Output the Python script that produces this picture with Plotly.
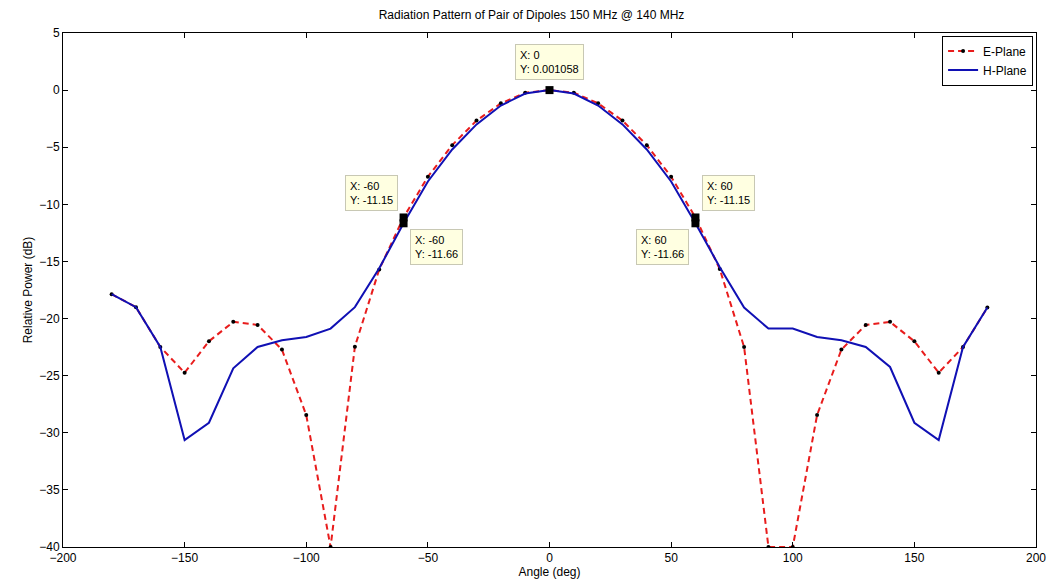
import plotly.graph_objects as go

# angles (deg)
angle = list(range(-180, 181, 10))

# E-Plane (dB)
e_plane = [-17.87, -19.0, -22.49, -24.74, -21.99, -20.29, -20.56, -22.72, -28.45, -40.0,
           -22.46, -15.7, -11.15, -7.58, -4.82, -2.67, -1.16, -0.23, 0.001058,
           -0.23, -1.16, -2.67, -4.82, -7.58, -11.15, -15.67, -22.49, -40.0, -40.0,
           -28.45, -22.72, -20.56, -20.29, -21.99, -24.74, -22.49, -19.04]

# H-Plane (dB)
h_plane = [-17.87, -19.0, -22.49, -30.64, -29.12, -24.36, -22.49, -21.9, -21.61, -20.88,
           -19.0, -15.6, -11.66, -8.0, -5.2, -3.0, -1.35, -0.3, 0.0,
           -0.3, -1.35, -3.0, -5.2, -8.0, -11.66, -15.5, -19.04, -20.88, -20.88,
           -21.61, -21.9, -22.49, -24.24, -29.12, -30.64, -22.49, -19.04]

# data tips
tip_x = [0, -60, -60, 60, 60]
tip_y = [0.001058, -11.15, -11.66, -11.15, -11.66]

font = "Liberation Sans Narrow, Liberation Sans, Arial, sans-serif"

fig = go.Figure()
fig.add_trace(go.Scatter(
    x=angle, y=e_plane, name='E-Plane', mode='lines+markers',
    line=dict(color='#e81c1c', width=2, dash='6px,4px'),
    marker=dict(color='black', size=4),
))
fig.add_trace(go.Scatter(
    x=angle, y=h_plane, name='H-Plane', mode='lines',
    line=dict(color='#1010b4', width=2),
))
fig.add_trace(go.Scatter(
    x=tip_x, y=tip_y, mode='markers', showlegend=False,
    marker=dict(color='black', size=8, symbol='square'),
    hoverinfo='skip',
))

# tip boxes: (anchor x, anchor y, xshift, yshift)
tip_pos = [('center', 'bottom', 0, 10),
           ('right', 'bottom', -6, 6),
           ('left', 'top', 6, -6),
           ('left', 'bottom', 7, 6),
           ('right', 'top', -6, -6)]
for (xa, ya, xs, ys), x, y in zip(tip_pos, tip_x, tip_y):
    ytxt = '0.001058' if x == 0 else f'{y:.2f}'
    fig.add_annotation(
        x=x, y=y, xref='x', yref='y', showarrow=False,
        text=f'X: {x}<br>Y: {ytxt}', align='left',
        xanchor=xa, yanchor=ya, xshift=xs, yshift=ys,
        bgcolor='#ffffe1', bordercolor='#c8c8b4', borderwidth=1, borderpad=4,
        font=dict(family=font, size=11, color='black'),
    )

axis_common = dict(
    showgrid=False, zeroline=False, showline=True, linecolor='black', linewidth=1,
    mirror='allticks', ticks='inside', ticklen=5, tickcolor='black', automargin=False,
    tickfont=dict(family=font, size=12, color='black'),
)

# page body has an 8px margin, so the figure is sized 8px smaller
fig.update_layout(
    width=1047, height=580,
    paper_bgcolor='white', plot_bgcolor='white',
    margin=dict(l=55, r=19, t=25, b=41),
    title=dict(text='Radiation Pattern of Pair of Dipoles 150 MHz @ 140 MHz',
               x=0.5, xanchor='center', y=0.988, yanchor='middle',
               font=dict(family=font, size=12, color='black')),
    xaxis=dict(range=[-200, 200], tickvals=list(range(-200, 201, 50)),
               title=dict(text='Angle (deg)', standoff=2,
                          font=dict(family=font, size=12, color='black')),
               **axis_common),
    yaxis=dict(range=[-40, 5], tickvals=list(range(-40, 6, 5)),
               title=dict(text='Relative Power (dB)', standoff=4,
                          font=dict(family=font, size=12, color='black')),
               **axis_common),
    legend=dict(x=0.997, y=0.995, xanchor='right', yanchor='top',
                bgcolor='white', bordercolor='black', borderwidth=1,
                font=dict(family=font, size=12, color='black'),
                tracegroupgap=0, itemwidth=30),
    showlegend=True,
)

fig.write_html("out.html")
